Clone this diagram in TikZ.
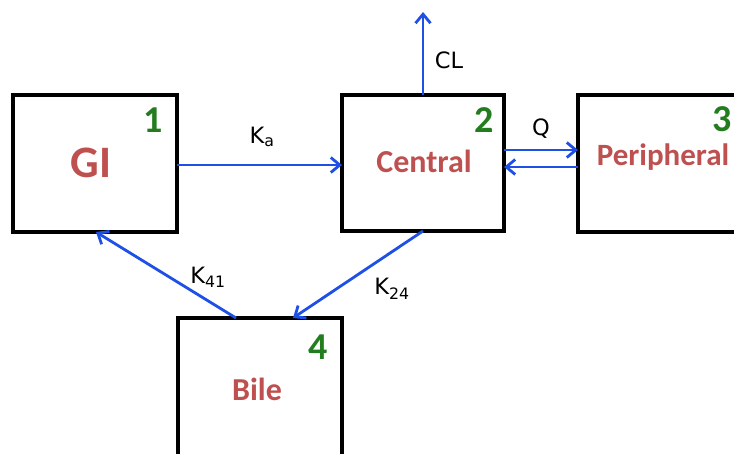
\documentclass[tikz,border=0pt]{standalone}
\usepackage{fontspec}
\setmainfont{Carlito}
\newfontfamily\labfont{DejaVu Sans}
\usetikzlibrary{arrows.meta}
\definecolor{arrblue}{RGB}{30,80,230}
\definecolor{txtred}{RGB}{190,80,80}
\definecolor{numgreen}{RGB}{35,125,30}
\tikzset{
  comp/.style={draw=black, line width=3.6pt},
  conn/.style={draw=arrblue, line width=2.8pt, -{Straight Barb[length=9pt,width=15pt,line width=2.8pt]}},
  cname/.style={text=txtred, anchor=base, inner sep=0pt, font=\bfseries\fontsize{32}{34}\selectfont},
  cnum/.style={text=numgreen, inner sep=0pt, font=\bfseries\fontsize{38}{40}\selectfont},
  clab/.style={inner sep=0pt, font=\labfont\fontsize{22.5}{25}\selectfont},
}
\begin{document}
\begin{tikzpicture}[x=1pt,y=-1pt]
\useasboundingbox (0,0) rectangle (734,453);
% boxes
\draw[comp] (13,95) rectangle (177,232);
\draw[comp] (342,95) rectangle (504,231);
\draw[comp] (740,95) -- (578,95) -- (578,232) -- (740,232);
\draw[comp] (178,460) -- (178,318) -- (342,318) -- (342,460);
% named anchors
\coordinate (giR) at (177,165);
\coordinate (giB) at (96,232);
\coordinate (ceL) at (342,165);
\coordinate (ceT) at (423,95);
\coordinate (ceB) at (423,231);
\coordinate (ceR1) at (504,150);
\coordinate (ceR2) at (504,167);
\coordinate (peL1) at (578,150);
\coordinate (peL2) at (578,167);
\coordinate (biT1) at (236,318);
\coordinate (biT2) at (293,318);
\coordinate (clEnd) at (423,12);
% texts
\node[cname, font=\bfseries\fontsize{45}{48}\selectfont] (gi) at (91,177) {GI};
\node[cname] (central) at (424,172) {Central};
\node[cname, font=\bfseries\fontsize{31}{34}\selectfont] (peri) at (663,165) {Peripheral};
\node[cname] (bile) at (257,400) {Bile};
\node[cnum] (n1) at (153,120) {1};
\node[cnum] (n2) at (484,120) {2};
\node[cnum] (n3) at (722,119) {3};
\node[cnum] (n4) at (318,347) {4};
% connectors
\draw[conn] (giR) -- (ceL);
\draw[conn] (ceT) -- (clEnd);
\draw[conn] (ceR1) -- (peL1);
\draw[conn] (peL2) -- (ceR2);
\draw[conn] (biT1) -- (giB);
\draw[conn] (ceB) -- (biT2);
% labels
\node[clab] (ka) at (262,137) {K\textsubscript{a}};
\node[clab] (cl) at (449,60) {CL};
\node[clab] (q) at (541,129) {Q};
\node[clab] (k41) at (208,277) {K\textsubscript{41}};
\node[clab] (k24) at (392,289) {K\textsubscript{24}};
\end{tikzpicture}
\end{document}
